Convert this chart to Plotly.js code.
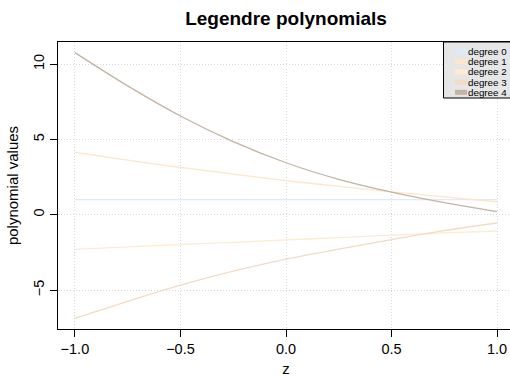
<!DOCTYPE html>
<html>
<head>
<meta charset="utf-8">
<script src="https://cdn.plot.ly/plotly-3.0.1.min.js"></script>
<style>
  html, body { margin: 0; padding: 0; overflow: hidden; background: #ffffff; }
  #chart { width: 514px; height: 377px; }
</style>
</head>
<body>
<div id="chart"></div>
<script>
// Evaluation grid on [-1, 1]
const z = [-1, -0.75, -0.5, -0.25, 0, 0.25, 0.5, 0.75, 1];

// Polynomial values for each degree
const degree0 = [1.0, 1.0, 1.0, 1.0, 1.0, 1.0, 1.0, 1.0, 1.0];
const degree1 = [4.14, 3.62, 3.15, 2.70, 2.27, 1.88, 1.52, 1.18, 0.86];
const degree2 = [-2.30, -2.14, -1.98, -1.83, -1.67, -1.52, -1.36, -1.21, -1.08];
const degree3 = [-6.88, -5.75, -4.68, -3.75, -2.95, -2.28, -1.65, -1.05, -0.55];
const degree4 = [10.76, 8.55, 6.55, 4.85, 3.45, 2.35, 1.50, 0.80, 0.20];

const seriesNames = ["degree 0", "degree 1", "degree 2", "degree 3", "degree 4"];
const seriesValues = [degree0, degree1, degree2, degree3, degree4];
const seriesColors = ["#dfeaf8", "#fde6cc", "#feebd2", "#f2dcc4", "#c3b3a2"];

const FONT = "Liberation Sans, Arial, Helvetica, sans-serif";

// Plot geometry (pixels)
const W = 514, H = 377;
const M = { l: 58, r: 0, t: 42, b: 48 };
const PW = W - M.l - M.r, PH = H - M.t - M.b;
const px = x => (x - M.l) / PW;          // pixel -> paper x
const py = y => 1 - (y - M.t) / PH;      // pixel -> paper y

// Axis ranges padded by 4% like a classic base plot
const allY = seriesValues.flat();
const yMin = Math.min(...allY), yMax = Math.max(...allY);
const yPad = 0.04 * (yMax - yMin);
const xMin = Math.min(...z), xMax = Math.max(...z);
const xPad = 0.04 * (xMax - xMin);

const traces = seriesValues.map((vals, i) => ({
  type: "scatter",
  mode: "lines",
  x: z,
  y: vals,
  name: seriesNames[i],
  line: { color: seriesColors[i], width: 1.3, shape: "spline", smoothing: 0.8 },
  showlegend: false,
  hoverinfo: "skip"
}));

// Boxed legend in the top-right corner
const shapes = [{
  type: "rect", xref: "paper", yref: "paper",
  x0: px(443.5), x1: px(W + 2), y0: py(42), y1: py(98),
  fillcolor: "#e6e6e6", line: { color: "#000000", width: 1 }, layer: "above"
}];
const annotations = [];
seriesNames.forEach((name, i) => {
  const cy = 51.5 + i * 10.2;
  shapes.push({
    type: "rect", xref: "paper", yref: "paper",
    x0: px(455), x1: px(467), y0: py(cy + 2.5), y1: py(cy - 2.5),
    fillcolor: seriesColors[i], line: { width: 0 }, layer: "above"
  });
  annotations.push({
    xref: "paper", yref: "paper", x: px(466), y: py(cy),
    xanchor: "left", yanchor: "middle", showarrow: false,
    text: name, font: { family: FONT, size: 9.8, color: "#000000" }
  });
});

const gridStyle = { showgrid: true, gridcolor: "#d9d9d9", griddash: "1px,2px", gridwidth: 1 };

const layout = {
  width: W, height: H,
  margin: M,
  paper_bgcolor: "#ffffff",
  plot_bgcolor: "#ffffff",
  font: { family: FONT, color: "#000000" },
  title: {
    text: "<b>Legendre polynomials</b>",
    font: { family: FONT, size: 19, color: "#000000" },
    x: px((M.l + W) / 2), xanchor: "center", xref: "paper",
    y: 1 - 18 / H, yanchor: "middle"
  },
  xaxis: Object.assign({
    range: [xMin - xPad, xMax + xPad],
    tickvals: [-1, -0.5, 0, 0.5, 1],
    ticktext: ["\u22121.0", "\u22120.5", "0.0", "0.5", "1.0"],
    ticks: "outside", ticklen: 7, tickwidth: 1, tickcolor: "#000000",
    tickfont: { family: FONT, size: 14.5, color: "#000000" },
    showline: true, linecolor: "#000000", linewidth: 1, mirror: true,
    zeroline: false,
    title: { text: "z", font: { family: FONT, size: 15, color: "#000000" }, standoff: 12 }
  }, gridStyle),
  yaxis: Object.assign({
    range: [yMin - yPad, yMax + yPad],
    tickvals: [-5, 0, 5, 10],
    ticktext: ["\u22125", "0", "5", "10"],
    tickangle: -90,
    ticks: "outside", ticklen: 7, tickwidth: 1, tickcolor: "#000000",
    tickfont: { family: FONT, size: 14.5, color: "#000000" },
    showline: true, linecolor: "#000000", linewidth: 1, mirror: true,
    zeroline: false,
    title: { text: "polynomial values", font: { family: FONT, size: 15, color: "#000000" }, standoff: 8 }
  }, gridStyle),
  shapes: shapes,
  annotations: annotations,
  showlegend: false
};

Plotly.newPlot("chart", traces, layout, { staticPlot: true, displayModeBar: false });
</script>
</body>
</html>
